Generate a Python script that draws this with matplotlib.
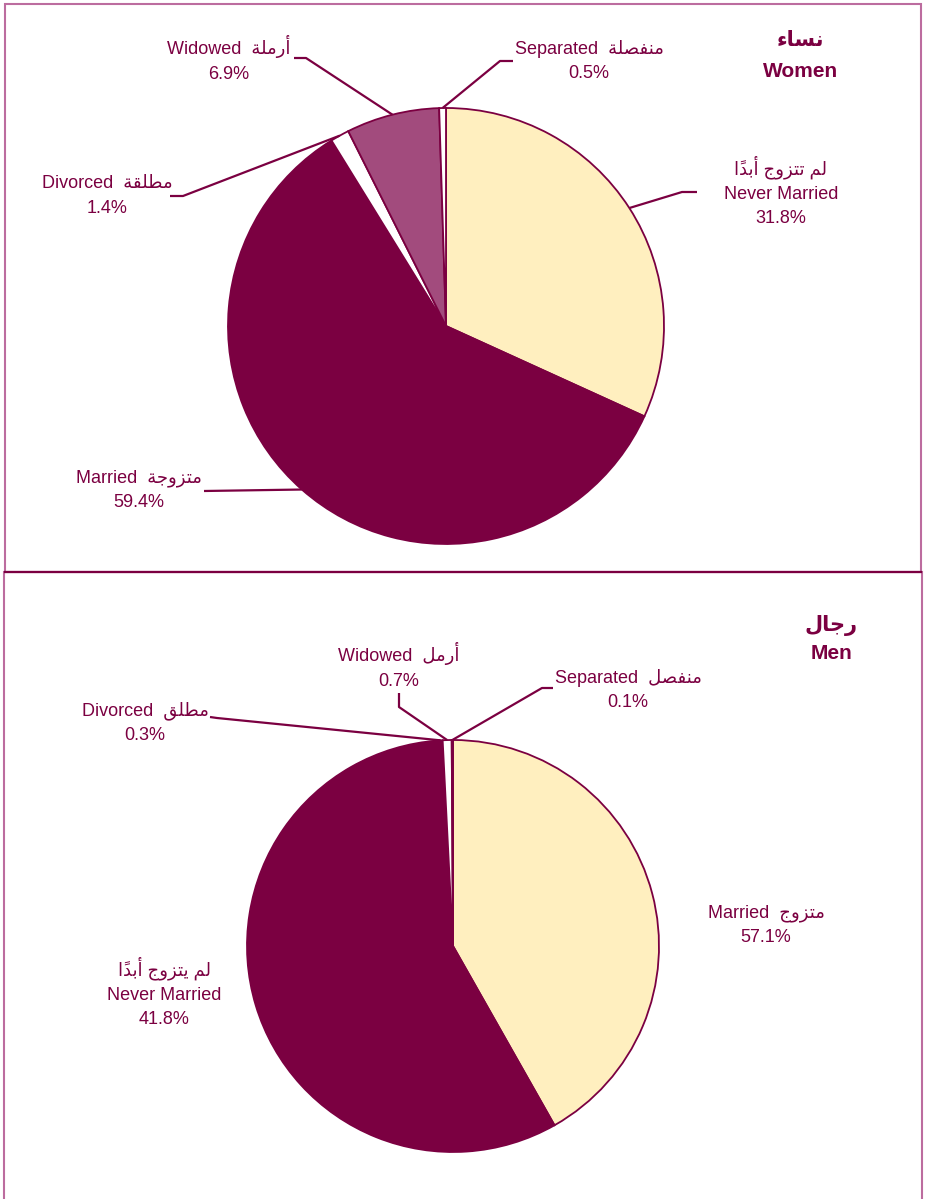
import numpy as np
import matplotlib
matplotlib.use('Agg')
import matplotlib.pyplot as plt
from matplotlib.patches import Rectangle

W, H = 925, 1199
MAROON = '#7B0041'
YELLOW = '#FFEFBF'
MAUVE = '#A24B7D'
PINK = '#BC6C9F'
FONT = ['Liberation Sans', 'DejaVu Sans']

# Arabic written in visual order with presentation forms (matplotlib does no shaping)
AR_NEVER_F = '\uFE8D\u064B\uFEAA\uFE91\uFE83 \uFE9D\uFEED\uFEB0\uFE98\uFE97 \uFEE2\uFEDF'
AR_NEVER_M = '\uFE8D\u064B\uFEAA\uFE91\uFE83 \uFE9D\uFEED\uFEB0\uFE98\uFEF3 \uFEE2\uFEDF'

categories = ['Never Married', 'Married', 'Divorced', 'Widowed', 'Separated']

women_ar = [AR_NEVER_F,
            '\uFE94\uFE9F\uFEED\uFEB0\uFE98\uFEE3',
            '\uFE94\uFED8\uFEE0\uFEC4\uFEE3',
            '\uFE94\uFEE0\uFEE3\uFEAD\uFE83',
            '\uFE94\uFEE0\uFEBC\uFED4\uFEE8\uFEE3']
women_vals = [31.8, 59.4, 1.4, 6.9, 0.5]
women_colors = [YELLOW, MAROON, 'white', MAUVE, 'white']
women_title = ('\uFE80\uFE8E\uFEB4\uFEE7', 'Women')

men_ar = [AR_NEVER_M,
          '\uFE9D\uFEED\uFEB0\uFE98\uFEE3',
          '\uFED6\uFEE0\uFEC4\uFEE3',
          '\uFEDE\uFEE3\uFEAD\uFE83',
          '\uFEDE\uFEBC\uFED4\uFEE8\uFEE3']
men_vals = [41.8, 57.1, 0.3, 0.7, 0.1]
men_colors = [YELLOW, MAROON, MAROON, 'white', 'white']
men_title = ('\uFEDD\uFE8E\uFE9F\uFEAD', 'Men')

# layout in image pixels (y down): pie centre/radius, label centres, leader start/knee
women_pie = ((446, 326), 218)
women_text = {'Never Married': (781, 191, 3), 'Married': (139, 490, 2),
              'Divorced': (107, 196, 2), 'Widowed': (229, 59, 2),
              'Separated': (589, 61, 2)}
women_lead = {'Never Married': ((697, 192), (682, 192)),
              'Married': ((204, 491), (204, 491)),
              'Divorced': ((170, 196), (183, 196)),
              'Widowed': ((294, 58), (306, 58)),
              'Separated': ((513, 61), (500, 61))}
women_title_pos = (801, 56)

men_pie = ((453, 946), 206)
men_text = {'Never Married': (164, 992, 3), 'Married': (766, 925, 2),
            'Divorced': (145, 723, 2), 'Widowed': (399, 666, 2),
            'Separated': (628, 690, 2)}
men_lead = {'Divorced': ((210, 717), (217, 718)),
            'Widowed': ((399, 693), (399, 707)),
            'Separated': ((553, 688), (542, 688))}
men_title_pos = (831, 639)

fig = plt.figure(figsize=(W / 100, H / 100), dpi=100)
ax = fig.add_axes([0, 0, 1, 1])


def draw(vals, colors, ar, pie, text, lead, title, title_pos, tspace):
    (cx, cy), r = pie
    wedges, _ = ax.pie(vals, colors=colors, startangle=90, counterclock=False,
                       center=(cx, H - cy), radius=r,
                       wedgeprops=dict(edgecolor=MAROON, linewidth=1.3))
    for i, cat in enumerate(categories):
        x, y, n = text[cat]
        pct = f'{vals[i]}%'
        if n == 3:
            s = f'{ar[i]}\n{cat}\n{pct}'
        else:
            s = f'{cat}  {ar[i]}\n{pct}'
        ax.text(x, H - y, s, ha='center', va='center', color=MAROON,
                fontsize=13, family=FONT, linespacing=1.55)
        if cat in lead:
            w = wedges[i]
            mid = np.deg2rad((w.theta1 + w.theta2) / 2)
            ex, ey = cx + r * np.cos(mid), (H - cy) + r * np.sin(mid)
            (sx, sy), (kx, ky) = lead[cat]
            ax.plot([sx, kx, ex], [H - sy, H - ky, ey], color=MAROON, lw=1.6,
                    solid_capstyle='butt')
    ax.text(title_pos[0], H - title_pos[1], f'{title[0]}\n{title[1]}',
            ha='center', va='center', color=MAROON, fontsize=15,
            fontweight='bold', family=FONT, linespacing=tspace)


draw(women_vals, women_colors, women_ar, women_pie, women_text, women_lead,
     women_title, women_title_pos, 1.75)
draw(men_vals, men_colors, men_ar, men_pie, men_text, men_lead,
     men_title, men_title_pos, 1.5)

# panel frames
ax.add_patch(Rectangle((5, H - 572), 916, 568, fill=False, edgecolor=PINK, lw=1.5))
ax.add_patch(Rectangle((4, -10), 918, H - 572 + 10, fill=False, edgecolor=PINK, lw=1.5))
ax.plot([5, 921], [H - 572, H - 572], color=MAROON, lw=1.6)

ax.set_xlim(0, W)
ax.set_ylim(0, H)
ax.set_aspect('auto')
ax.axis('off')

fig.savefig('out.png', dpi=100, facecolor='white')
